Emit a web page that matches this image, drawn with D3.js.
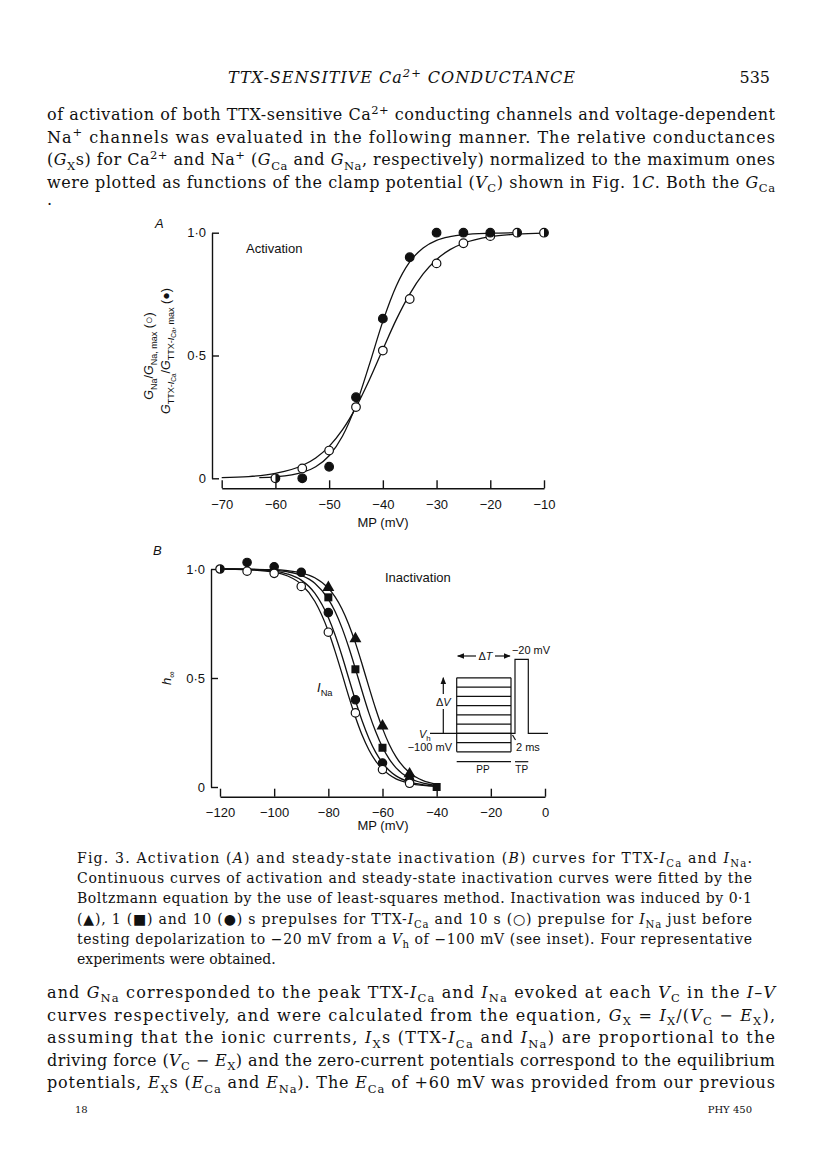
<!DOCTYPE html>
<html>
<head>
<meta charset="utf-8">
<script src="https://cdn.jsdelivr.net/npm/d3@7"></script>
<style>body{margin:0;background:#fff}</style>
</head>
<body>
<div id="page"></div>
<script>
// ---------- panel A : activation ----------
const actV   = [-60, -55, -50, -45, -40, -35, -30, -25, -20, -15, -10];
const actCa  = [0.0, 0.0, 0.047, 0.33, 0.65, 0.90, 1.0, 1.0, 1.0, 1.0, 1.0];      // filled circles
const actNa  = [0.0, 0.04, 0.113, 0.29, 0.52, 0.73, 0.875, 0.957, 0.986, 1.0, 1.0]; // open circles
// fitted curves
const fitCaV = [-63, -60, -55, -52.5, -50, -47.5, -45, -42.5, -40, -37.5, -35, -32.5, -30, -27.5, -25, -20, -15];
const fitCaG = [0.003, 0.006, 0.024, 0.047, 0.092, 0.172, 0.298, 0.464, 0.639, 0.783, 0.881, 0.938, 0.969, 0.984, 0.992, 0.998, 1.0];
const fitNaV = [-70, -65, -60, -55, -52.5, -50, -47.5, -45, -42.5, -40, -37.5, -35, -32.5, -30, -27.5, -25, -20, -15, -10];
const fitNaG = [0.003, 0.007, 0.020, 0.052, 0.083, 0.130, 0.198, 0.289, 0.401, 0.525, 0.646, 0.750, 0.832, 0.891, 0.931, 0.957, 0.984, 0.994, 0.998];
const actXTicks = [-70, -60, -50, -40, -30, -20, -10];

// ---------- panel B : inactivation ----------
const inactV    = [-120, -110, -100, -90, -80, -70, -60, -50, -40];
const inactNa   = [1.0, 0.99, 0.98, 0.92, 0.71, 0.34, 0.08, 0.017, null];  // open circles
const inactCa10 = [1.0, 1.03, 1.01, 0.985, 0.80, 0.40, 0.11, 0.03, null];  // filled circles (10 s)
const inactCa1  = [null, null, null, null, 0.87, 0.54, 0.18, 0.04, 0.0];   // squares (1 s)
const inactCa01 = [null, null, null, null, 0.915, 0.68, 0.28, 0.06, null]; // triangles (0.1 s)
const fitV     = [-120, -110, -100, -95, -90, -85, -80, -77.5, -75, -72.5, -70, -67.5, -65, -62.5, -60, -57.5, -55, -50, -45, -40];
const fitNa    = [1.0, 0.997, 0.986, 0.968, 0.930, 0.852, 0.714, 0.622, 0.521, 0.417, 0.321, 0.237, 0.170, 0.119, 0.082, 0.056, 0.037, 0.017, 0.007, 0.003];
const fitCa10  = [1.0, 0.998, 0.990, 0.977, 0.949, 0.889, 0.777, 0.697, 0.603, 0.500, 0.397, 0.303, 0.223, 0.159, 0.111, 0.076, 0.051, 0.023, 0.010, 0.004];
const fitCa1   = [1.0, 0.999, 0.994, 0.987, 0.971, 0.935, 0.862, 0.805, 0.731, 0.642, 0.542, 0.438, 0.339, 0.253, 0.182, 0.128, 0.088, 0.040, 0.018, 0.008];
const fitCa01  = [1.0, 0.999, 0.997, 0.992, 0.982, 0.960, 0.912, 0.872, 0.818, 0.747, 0.661, 0.562, 0.458, 0.358, 0.269, 0.195, 0.138, 0.065, 0.029, 0.013];
const inactXTicks = [-120, -100, -80, -60, -40, -20, 0];
const yTicks = [0, 0.5, 1];
// inset: prepulse levels (mV), holding and test potentials
const insetLevels = [-120, -110, -100, -90, -80, -70, -60, -50, -40];
const insetHold = -100, insetTest = -20;

// ---------- page text ----------
const header = "*TTX-SENSITIVE Ca^{2+} CONDUCTANCE*";
const para1 = [
  "of activation of both TTX-sensitive Ca^{2+} conducting channels and voltage-dependent",
  "Na^{+} channels was evaluated in the following manner. The relative conductances",
  "(*G*_{X}s) for Ca^{2+} and Na^{+} (*G*_{Ca} and *G*_{Na}, respectively) normalized to the maximum ones",
  "were plotted as functions of the clamp potential (*V*_{C}) shown in Fig. 1*C*. Both the *G*_{Ca}"
];
const caption = [
  "Fig. 3. Activation (*A*) and steady-state inactivation (*B*) curves for TTX-*I*_{Ca} and *I*_{Na}.",
  "Continuous curves of activation and steady-state inactivation curves were fitted by the",
  "Boltzmann equation by the use of least-squares method. Inactivation was induced by 0·1",
  "(▲), 1 (■) and 10 (●) s prepulses for TTX-*I*_{Ca} and 10 s (○) prepulse for *I*_{Na} just before",
  "testing depolarization to −20 mV from a *V*_{h} of −100 mV (see inset). Four representative",
  "experiments were obtained."
];
const para2 = [
  "and *G*_{Na} corresponded to the peak TTX-*I*_{Ca} and *I*_{Na} evoked at each *V*_{C} in the *I*–*V*",
  "curves respectively, and were calculated from the equation, *G*_{X} = *I*_{X}/(*V*_{C} − *E*_{X}),",
  "assuming that the ionic currents, *I*_{X}s (TTX-*I*_{Ca} and *I*_{Na}) are proportional to the",
  "driving force (*V*_{C} − *E*_{X}) and the zero-current potentials correspond to the equilibrium",
  "potentials, *E*_{X}s (*E*_{Ca} and *E*_{Na}). The *E*_{Ca} of +60 mV was provided from our previous"
];

const serif = "'DejaVu Serif', serif";
const sans = "'Liberation Sans', Arial, sans-serif";

const svg = d3.select("#page").append("svg")
  .attr("width", 816).attr("height", 1176)
  .style("background", "#fff");

const defs = svg.append("defs");
defs.append("marker").attr("id", "arr")
  .attr("viewBox", "0 0 10 10").attr("refX", 9).attr("refY", 5)
  .attr("markerWidth", 6).attr("markerHeight", 6).attr("orient", "auto-start-reverse")
  .append("path").attr("d", "M0,1L10,5L0,9Z").attr("fill", "#111");

// small markup: *italic*, _{sub}, ^{sup}  (relative dy so text-anchor still works)
function rich(parent, str, x, y, size, fam) {
  const t = parent.append("text").attr("x", x).attr("y", y)
    .attr("font-family", fam).attr("font-size", size)
    .attr("fill", "#111").style("white-space", "pre");
  const stack = [];
  let it = false, buf = "", cur = 0;
  function flush() {
    if (!buf) return;
    let off = 0, sz = size;
    stack.forEach(m => { off += m === "sub" ? sz * 0.28 : -sz * 0.4; sz *= 0.72; });
    t.append("tspan").attr("dy", off - cur).attr("font-size", sz)
      .attr("font-style", it ? "italic" : null).text(buf);
    cur = off;
    buf = "";
  }
  for (let i = 0; i < str.length; i++) {
    const c = str[i];
    if (c === "*") { flush(); it = !it; }
    else if ((c === "_" || c === "^") && str[i + 1] === "{") { flush(); stack.push(c === "_" ? "sub" : "sup"); i++; }
    else if (c === "}" && stack.length) { flush(); stack.pop(); }
    else buf += c;
  }
  flush();
  return t;
}
function justify(t, w) {
  const len = t.node().getComputedTextLength();
  t.attr("textLength", w).attr("lengthAdjust", len <= w ? "spacing" : "spacingAndGlyphs");
}

// header
justify(rich(svg, header, 228, 83, 16, serif), 347);
svg.append("text").attr("x", 770).attr("y", 83).attr("text-anchor", "end")
  .attr("font-family", serif).attr("font-size", 16).attr("fill", "#111").text("535");

para1.forEach((s, i) => justify(rich(svg, s, 47, 120 + i * 22.6, 16, serif), 728));
svg.append("text").attr("x", 47).attr("y", 205).attr("font-family", serif)
  .attr("font-size", 16).attr("fill", "#111").text(".");

caption.forEach((s, i) => {
  const t = rich(svg, s, 77, 863 + i * 20.2, 14, serif);
  if (i < caption.length - 1) justify(t, 675);
});
para2.forEach((s, i) => justify(rich(svg, s, 47, 998 + i * 22.6, 16, serif), 728));
svg.append("text").attr("x", 75).attr("y", 1113).attr("font-family", serif)
  .attr("font-size", 10).attr("fill", "#111").text("18");
svg.append("text").attr("x", 752).attr("y", 1113).attr("text-anchor", "end").attr("font-family", serif)
  .attr("font-size", 10).attr("fill", "#111").text("PHY 450");

// ---------- shared helpers ----------
const fmtX = d => d < 0 ? "−" + Math.abs(d) : String(d);
const fmtY = d => d === 0 ? "0" : d3.format(".1f")(d).replace(".", "·");

function axes(g, x, y, xTicks, yAxisX, xAxisY) {
  const ya = g.append("g").attr("transform", `translate(${yAxisX},0)`)
    .call(d3.axisLeft(y).tickValues(yTicks).tickFormat(fmtY).tickSizeInner(-7).tickSizeOuter(0).tickPadding(6));
  const xa = g.append("g").attr("transform", `translate(0,${xAxisY})`)
    .call(d3.axisBottom(x).tickValues(xTicks).tickFormat(fmtX).tickSizeInner(-8).tickSizeOuter(0).tickPadding(11));
  [ya, xa].forEach(a => {
    a.attr("font-family", sans).attr("font-size", 13);
    a.selectAll("path,line").attr("stroke", "#111").attr("stroke-width", 1.4);
    a.selectAll("text").attr("fill", "#111");
  });
}
function curve(g, x, y, xs, ys) {
  const pts = xs.map((v, i) => [v, ys[i]]);
  g.append("path").datum(pts)
    .attr("fill", "none").attr("stroke", "#111").attr("stroke-width", 1.3)
    .attr("d", d3.line().x(d => x(d[0])).y(d => y(d[1])).curve(d3.curveMonotoneX));
}
function pts(xs, ys) {
  return xs.map((v, i) => ({ v, g: ys[i] })).filter(d => d.g !== null);
}
function circles(g, x, y, data, filled, r) {
  g.append("g").selectAll("circle").data(data).join("circle")
    .attr("cx", d => x(d.v)).attr("cy", d => y(d.g)).attr("r", r)
    .attr("fill", filled ? "#111" : "#fff").attr("stroke", "#111").attr("stroke-width", 1.2);
}
function halves(g, x, y, data, r) {
  const h = g.append("g").selectAll("g").data(data).join("g")
    .attr("transform", d => `translate(${x(d.v)},${y(d.g)})`);
  h.append("circle").attr("r", r).attr("fill", "#fff").attr("stroke", "#111").attr("stroke-width", 1.2);
  h.append("path").attr("d", `M0,${-r}A${r},${r} 0 0 1 0,${r}Z`).attr("fill", "#111");
}
function symbols(g, x, y, data, type, size) {
  g.append("g").selectAll("path").data(data).join("path")
    .attr("transform", d => `translate(${x(d.v)},${y(d.g)})`)
    .attr("d", d3.symbol().type(type).size(size)).attr("fill", "#111");
}

// ---------- panel A ----------
const gA = svg.append("g");
const xA = d3.scaleLinear().domain([-70, -10]).range([221.7, 544]);
const yA = d3.scaleLinear().domain([0, 1]).range([478.3, 232.7]);
axes(gA, xA, yA, actXTicks, 212, 488.3);
curve(gA, xA, yA, fitNaV, fitNaG);
curve(gA, xA, yA, fitCaV, fitCaG);
{
  const ca = pts(actV, actCa), na = pts(actV, actNa);
  const same = ca.filter(c => na.some(n => n.v === c.v && Math.abs(n.g - c.g) < 0.005));
  const isSame = d => same.some(s => s.v === d.v);
  circles(gA, xA, yA, na.filter(d => !isSame(d)), false, 4.3);
  circles(gA, xA, yA, ca.filter(d => !isSame(d)), true, 4.3);
  halves(gA, xA, yA, same, 4.3);
}
gA.append("text").attr("x", 155).attr("y", 228).attr("font-family", sans).attr("font-size", 13)
  .attr("font-style", "italic").attr("fill", "#111").text("A");
gA.append("text").attr("x", 246).attr("y", 253).attr("font-family", sans).attr("font-size", 13)
  .attr("fill", "#111").text("Activation");
gA.append("text").attr("x", 383).attr("y", 527).attr("text-anchor", "middle").attr("font-family", sans)
  .attr("font-size", 13).attr("fill", "#111").text("MP (mV)");
{
  const l1 = gA.append("g").attr("transform", "translate(153,356) rotate(-90)");
  rich(l1, "*G*_{Na}/*G*_{Na, max} (○)", 0, 0, 12.5, sans).attr("text-anchor", "middle");
  const l2 = gA.append("g").attr("transform", "translate(170,351) rotate(-90)");
  rich(l2, "*G*_{TTX-*I*_{Ca}}/*G*_{TTX-*I*_{Ca}, max} (●)", 0, 0, 12.5, sans).attr("text-anchor", "middle");
}

// ---------- panel B ----------
const gB = svg.append("g");
const xB = d3.scaleLinear().domain([-120, 0]).range([220, 545]);
const yB = d3.scaleLinear().domain([0, 1]).range([787, 569]);
axes(gB, xB, yB, inactXTicks, 211, 796.7);
[fitNa, fitCa10, fitCa1, fitCa01].forEach(s => curve(gB, xB, yB, fitV, s));
{
  const na = pts(inactV, inactNa), ca = pts(inactV, inactCa10);
  const same = ca.filter(c => na.some(n => n.v === c.v && Math.abs(n.g - c.g) < 0.005));
  const isSame = d => same.some(s => s.v === d.v);
  symbols(gB, xB, yB, pts(inactV, inactCa01), d3.symbolTriangle, 62);
  symbols(gB, xB, yB, pts(inactV, inactCa1), d3.symbolSquare, 64);
  circles(gB, xB, yB, ca.filter(d => !isSame(d)), true, 4.2);
  circles(gB, xB, yB, na.filter(d => !isSame(d)), false, 4.2);
  halves(gB, xB, yB, same, 4.2);
}
gB.append("text").attr("x", 153).attr("y", 555).attr("font-family", sans).attr("font-size", 13)
  .attr("font-style", "italic").attr("fill", "#111").text("B");
gB.append("text").attr("x", 385).attr("y", 582).attr("font-family", sans).attr("font-size", 13)
  .attr("fill", "#111").text("Inactivation");
gB.append("text").attr("x", 383).attr("y", 830).attr("text-anchor", "middle").attr("font-family", sans)
  .attr("font-size", 13).attr("fill", "#111").text("MP (mV)");
rich(gB, "*I*_{Na}", 317, 692, 13, sans);
{
  const l = gB.append("g").attr("transform", "translate(171,678) rotate(-90)");
  rich(l, "*h*_{∞}", 0, 0, 13, sans).attr("text-anchor", "middle");
}

// ---------- inset (pulse protocol) ----------
const gI = gB.append("g").attr("stroke", "#111").attr("stroke-width", 1.2).attr("fill", "none");
const vIn = d3.scaleLinear().domain([insetHold, insetTest]).range([733.3, 659.3]);
const ppL = 456.7, ppR = 511, tpL = 515, tpR = 528.3, x0 = 430, x1 = 548;
const vTop = d3.max(insetLevels), vBot = d3.min(insetLevels);
gI.append("path").attr("d",
  `M${x0},${vIn(insetHold)}H${tpL}V${vIn(insetTest)}H${tpR}V${vIn(insetHold)}H${x1}`);
gI.selectAll("line.lv").data(insetLevels).join("line").attr("class", "lv")
  .attr("x1", ppL).attr("x2", ppR).attr("y1", d => vIn(d)).attr("y2", d => vIn(d));
[ppL, ppR].forEach(px => gI.append("line").attr("x1", px).attr("x2", px)
  .attr("y1", vIn(vTop)).attr("y2", vIn(vBot)));
gI.append("line").attr("x1", 512.5).attr("y1", 735).attr("x2", 515.5).attr("y2", 740);
// delta T arrows
gI.append("line").attr("x1", 476).attr("y1", 656).attr("x2", ppL + 1).attr("y2", 656).attr("marker-end", "url(#arr)");
gI.append("line").attr("x1", 495).attr("y1", 656).attr("x2", ppR - 1).attr("y2", 656).attr("marker-end", "url(#arr)");
// delta V arrow
gI.append("line").attr("x1", 443.3).attr("y1", 694).attr("x2", 443.3).attr("y2", vIn(vTop)).attr("marker-end", "url(#arr)");
gI.append("line").attr("x1", 443.3).attr("y1", 709).attr("x2", 443.3).attr("y2", vIn(insetHold));
// PP / TP bars
gI.append("line").attr("x1", ppL).attr("x2", ppR).attr("y1", 761.7).attr("y2", 761.7);
gI.append("line").attr("x1", tpL).attr("x2", tpR).attr("y1", 761.7).attr("y2", 761.7);
const tI = gB.append("g").attr("font-family", sans).attr("font-size", 11).attr("fill", "#111");
tI.append("text").attr("x", 531).attr("y", 654).attr("text-anchor", "middle").text("−20 mV");
rich(tI, "Δ*T*", 485.5, 660, 11, sans).attr("text-anchor", "middle");
rich(tI, "Δ*V*", 443.3, 705.5, 11, sans).attr("text-anchor", "middle");
rich(tI, "*V*_{h}", 419, 738, 11, sans);
tI.append("text").attr("x", 452).attr("y", 751).attr("text-anchor", "end").text("−100 mV");
tI.append("text").attr("x", 516).attr("y", 751).text("2 ms");
tI.append("text").attr("x", 483).attr("y", 773).attr("text-anchor", "middle").attr("font-size", 10).text("PP");
tI.append("text").attr("x", 521.7).attr("y", 773).attr("text-anchor", "middle").attr("font-size", 10).text("TP");
</script>
</body>
</html>
